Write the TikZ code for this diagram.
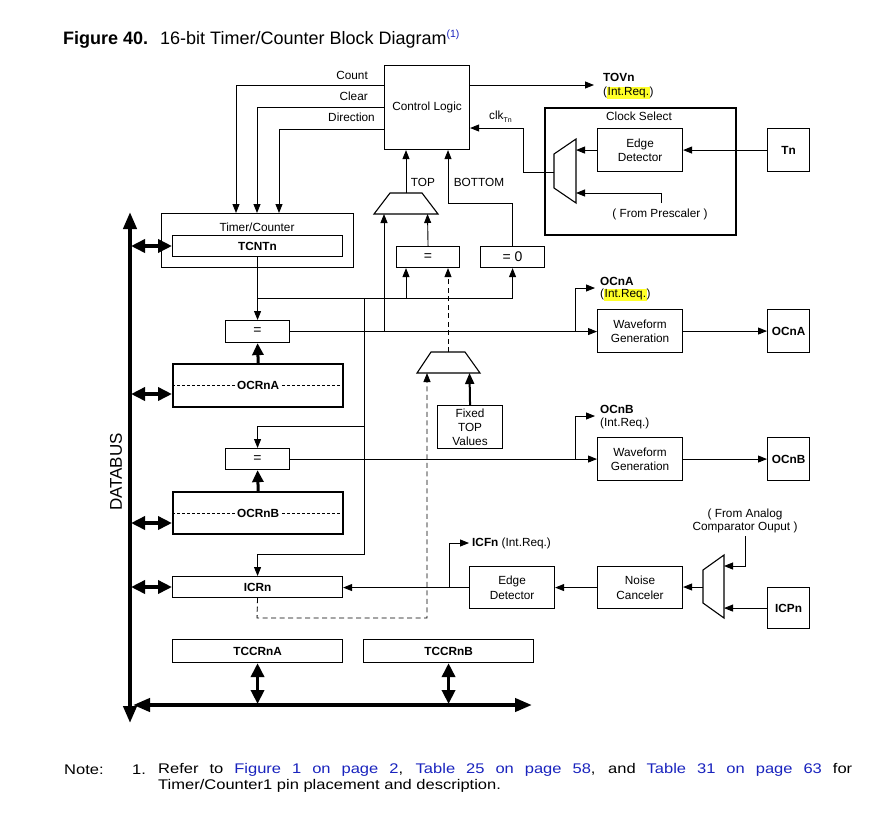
\documentclass[tikz,border=0pt]{standalone}
\usepackage{fontspec}
\setmainfont{Liberation Sans}
\newfontfamily\notefont[FakeStretch=1.18]{Liberation Sans}
\usetikzlibrary{arrows.meta,calc}
\definecolor{linkblue}{RGB}{25,35,190}
\definecolor{hl}{RGB}{255,255,40}
\newcommand\labfont{\fontsize{11.8}{14.5}\selectfont}
\newcommand\hlt[1]{{\setlength{\fboxsep}{0.6pt}\colorbox{hl}{#1}}}
\begin{document}
\begin{tikzpicture}[x=1pt,y=-1pt,
  box/.style={draw,line width=1.1pt,inner sep=0pt,align=center,font=\labfont,anchor=north west},
  bbox/.style={box,font=\labfont\bfseries},
  tbox/.style={box,line width=2.4pt},
  lbl/.style={font=\labfont,inner sep=0pt},
  wire/.style={line width=0.9pt},
  arr/.style={wire,-{Triangle[length=9pt,width=7pt]}},
  darr/.style={wire,dash pattern=on 5pt off 3.5pt,-{Triangle[length=9pt,width=7pt]}},
  bus/.style={line width=3.5pt,{Triangle[length=14pt,width=13pt]}-{Triangle[length=14pt,width=13pt]}},
  mainbus/.style={line width=4pt,{Triangle[length=17pt,width=13pt]}-{Triangle[length=17pt,width=13pt]}},
  fat/.style={line width=3pt,-{Triangle[length=12pt,width=11pt]}},
  muxs/.style={line width=1.1pt},
  ]
\useasboundingbox[fill=white] (0,0) rectangle (877,815);

% ---------- title ----------
\node[anchor=west,inner sep=0pt,font=\fontsize{18}{20}\selectfont] (title) at (63,39)
  {\bfseries Figure 40.\hspace{12pt}\mdseries 16-bit Timer/Counter Block Diagram\raisebox{7pt}{\fontsize{10.5}{11}\selectfont\color{linkblue}(1)}};

% ---------- boxes ----------
\node[box,minimum width=85pt,minimum height=84pt] (ctrl) at (384,65) {Control Logic};
\node[tbox,minimum width=191pt,minimum height=127pt] (clksel) at (544,107) {};
\node[lbl] (clkseltxt) at (639,116) {Clock Select};
\node[box,minimum width=85pt,minimum height=43pt] (edge1) at (597,128) {Edge\\Detector};
\node[bbox,minimum width=42pt,minimum height=43pt] (tn) at (767,128) {Tn};

\node[box,minimum width=192pt,minimum height=54pt] (tc) at (161,213) {};
\node[lbl] (tctxt) at (257,227) {Timer/Counter};
\node[bbox,minimum width=170pt,minimum height=21pt] (tcnt) at (172,235) {TCNTn};

\node[box,minimum width=64pt,minimum height=22pt,font=\fontsize{14}{14}\selectfont] (eqA) at (225,320) {=};
\node[tbox,minimum width=170pt,minimum height=43pt] (ocra) at (172,363) {};
\node[box,minimum width=64pt,minimum height=21pt,font=\fontsize{14}{14}\selectfont] (eqB) at (225,448) {=};
\node[tbox,minimum width=170pt,minimum height=42pt] (ocrb) at (172,491) {};
\node[bbox,minimum width=170pt,minimum height=21pt] (icr) at (172,576) {ICRn};
\node[bbox,minimum width=170pt,minimum height=23pt] (tccra) at (172,639) {TCCRnA};
\node[bbox,minimum width=170pt,minimum height=23pt] (tccrb) at (363,639) {TCCRnB};

\node[box,minimum width=63pt,minimum height=21pt,font=\fontsize{14}{14}\selectfont] (eqT) at (396,246) {=};
\node[box,minimum width=64pt,minimum height=21pt,font=\fontsize{14}{14}\selectfont] (eq0) at (480,246) {= 0};
\node[box,minimum width=65pt,minimum height=43pt,font=\fontsize{11.8}{14}\selectfont] (fixed) at (437,405) {Fixed\\TOP\\Values};

\node[box,minimum width=85pt,minimum height=43pt] (wgA) at (597,309) {Waveform\\Generation};
\node[bbox,minimum width=42pt,minimum height=43pt] (ocna) at (767,309) {OCnA};
\node[box,minimum width=85pt,minimum height=43pt] (wgB) at (597,437) {Waveform\\Generation};
\node[bbox,minimum width=42pt,minimum height=43pt] (ocnb) at (767,437) {OCnB};

\node[box,minimum width=85pt,minimum height=42pt] (edge2) at (469,566) {Edge\\Detector};
\node[box,minimum width=85pt,minimum height=42pt] (noise) at (597,566) {Noise\\Canceler};
\node[bbox,minimum width=42pt,minimum height=41pt] (icpn) at (767,587) {ICPn};

% OCR registers: dashed middle line with label
\draw[wire,line width=0.7pt,densely dashed] (ocra.west) -- (ocra.east);
\node[lbl,fill=white,inner xsep=2pt,font=\labfont\bfseries] (ocratxt) at (ocra.center) {OCRnA};
\draw[wire,line width=0.7pt,densely dashed] (ocrb.west) -- (ocrb.east);
\node[lbl,fill=white,inner xsep=2pt,font=\labfont\bfseries] (ocrbtxt) at (ocrb.center) {OCRnB};

% ---------- multiplexers ----------
\draw[muxs] (554,154) -- (576,139) -- (576,203) -- (554,188) -- cycle;
\coordinate (m1o) at (554,172); \coordinate (m1a) at (576,149.5); \coordinate (m1b) at (576,193);
\draw[muxs] (374,214) -- (390,193) -- (422,193) -- (438,214) -- cycle;
\coordinate (tmo) at (406,193); \coordinate (tma) at (384,214); \coordinate (tmb) at (427.5,214);
\draw[muxs] (417,373) -- (431,352) -- (465,352) -- (480,373) -- cycle;
\coordinate (fmo) at (448,352); \coordinate (fma) at (427,373); \coordinate (fmb) at (469.5,373);
\draw[muxs] (703,570) -- (724,555) -- (724,618) -- (703,603) -- cycle;
\coordinate (imo) at (703,587); \coordinate (ima) at (724,566); \coordinate (imb) at (724,607.5);

% ---------- control logic connections ----------
\coordinate (cnt) at (236,85); \coordinate (clr) at (257,107); \coordinate (dir) at (279,129);
\draw[arr] (ctrl.west |- cnt) -- (cnt) -- (cnt |- tc.north);
\draw[arr] (ctrl.west |- clr) -- (clr) -- (clr |- tc.north);
\draw[arr] (ctrl.west |- dir) -- (dir) -- (dir |- tc.north);
\node[lbl,anchor=east] (cntl) at (368,75) {Count};
\node[lbl,anchor=east] (clrl) at (368,96) {Clear};
\node[lbl,anchor=east] (dirl) at (375,117) {Direction};

\coordinate (tov) at (594,85);
\draw[arr] (ctrl.east |- tov) -- (tov);
\node[lbl,anchor=west,font=\labfont\bfseries] (tovl) at (603,77) {TOVn};
\node[lbl,anchor=west] (tovr) at (603,93) {(\hlt{Int.Req.})};

\coordinate (clka) at (523,128);
\draw[arr] (m1o) -- (m1o -| clka) -- (clka) -- (ctrl.east |- clka);
\node[lbl,anchor=west] (clkl) at (489,117) {clk\raisebox{-3pt}{\fontsize{7}{7}\selectfont Tn}};

\draw[arr] (edge1.west) -- (edge1.west -| m1a);
\draw[arr] (tn.west) -- (edge1.east);
\coordinate (pre) at (661,203);
\draw[arr] (pre) -- (pre |- m1b) -- (m1b);
\node[lbl] (prel) at (660,214) {( From Prescaler )};

\draw[arr] (tmo) -- (tmo |- ctrl.south);
\node[lbl] (topl) at (423,182) {TOP};
\coordinate (botc) at (448,203);
\draw[arr] (eq0.north) -- (eq0.north |- botc) -- (botc) -- (botc |- ctrl.south);
\node[lbl] (botl) at (479,182) {BOTTOM};
\draw[arr] (eqT.north) -- (tmb);

% ---------- TCNT distribution ----------
\coordinate (tj) at (257,298);
\draw[arr] (tcnt.south) -- (eqA.north);
\draw[wire] (tj) -- (tj -| eq0.south);
\draw[arr] (tj -| eq0.south) -- (eq0.south);
\coordinate (tja) at (406,298);
\draw[arr] (tja) -- (tja |- eqT.south);
\coordinate (vj) at (364,298); \coordinate (vj2) at (364,554); \coordinate (vj3) at (364,426);
\draw[wire] (vj) -- (vj2) -- (vj2 -| icr.north);
\draw[arr] (vj2 -| icr.north) -- (icr.north);
\draw[wire] (vj3) -- (vj3 -| eqB.north);
\draw[arr] (vj3 -| eqB.north) -- (eqB.north);

% ---------- compare A ----------
\draw[arr] (eqA.east) -- (eqA.east -| wgA.west);
\draw[arr] (eqA.east -| tma) -- (tma);
\coordinate (oa) at (575,288); \coordinate (oat) at (595,288);
\draw[arr] (eqA.east -| oa) -- (oa) -- (oat);
\node[lbl,anchor=west,font=\labfont\bfseries] (oal) at (600,281) {OCnA};
\node[lbl,anchor=west] (oar) at (600,295) {(\hlt{Int.Req.})};
\draw[fat] (ocra.north) -- (eqA.south);
\draw[arr] (wgA.east) -- (ocna.west);

% ---------- compare B ----------
\draw[arr] (eqB.east) -- (eqB.east -| wgB.west);
\coordinate (ob) at (575,416); \coordinate (obt) at (595,416);
\draw[arr] (eqB.east -| ob) -- (ob) -- (obt);
\node[lbl,anchor=west,font=\labfont\bfseries] (obl) at (600,409) {OCnB};
\node[lbl,anchor=west] (obr) at (600,423) {(Int.Req.)};
\draw[fat] (ocrb.north) -- (eqB.south);
\draw[arr] (wgB.east) -- (ocnb.west);

% ---------- TOP selection ----------
\draw[darr] (fmo) -- (fmo |- eqT.south);
\coordinate (d1) at (257,618); \coordinate (d2) at (427,618);
\draw[darr] (icr.south) -- (d1) -- (d2) -- (fma);
\draw[line width=2pt,-{Triangle[length=11pt,width=9pt]}] (fixed.north) -- (fmb);

% ---------- input capture ----------
\draw[arr] (edge2.west) -- (edge2.west -| icr.east);
\coordinate (ic) at (449,543); \coordinate (ict) at (469,543);
\draw[arr] (edge2.west -| ic) -- (ic) -- (ict);
\node[lbl,anchor=west] (icl) at (472,543) {\textbf{ICFn} (Int.Req.)};
\draw[arr] (noise.west) -- (edge2.east);
\draw[arr] (imo) -- (imo -| noise.east);
\draw[arr] (icpn.west) -- (icpn.west -| imb);
\coordinate (an) at (745,536);
\draw[arr] (an) -- (an |- ima) -- (ima);
\node[lbl,align=center,font=\fontsize{11.8}{13}\selectfont] (anl) at (745,521) {( From Analog\\Comparator Ouput )};

% ---------- data bus ----------
\coordinate (dbt) at (130,212); \coordinate (dbb) at (130,723);
\draw[mainbus] (dbt) -- (dbb);
\coordinate (hbl) at (133,705); \coordinate (hbr) at (532,705);
\draw[mainbus] (hbl) -- (hbr);
\coordinate (bt) at (131,246); \coordinate (ba) at (131,394); \coordinate (bb) at (131,523); \coordinate (bi) at (131,587);
\draw[bus] (bt) -- (bt -| tcnt.west);
\draw[bus] (ba) -- (ba -| ocra.west);
\draw[bus] (bb) -- (bb -| ocrb.west);
\draw[bus] (bi) -- (bi -| icr.west);
\coordinate (hb) at (133,704);
\draw[bus] (hb -| tccra.south) -- (tccra.south);
\draw[bus] (hb -| tccrb.south) -- (tccrb.south);
\node[lbl,rotate=90,font=\fontsize{17}{17}\selectfont] (dbl) at (116,472) {DATABUS};

% ---------- note ----------
\node[anchor=west,inner sep=0pt,font=\notefont\fontsize{14}{16}\selectfont] (note) at (64,770) {Note:};
\node[anchor=west,inner sep=0pt,font=\notefont\fontsize{14}{16}\selectfont] (n1) at (132,770) {1.};
\node[anchor=west,inner sep=0pt,font=\notefont\fontsize{14}{16}\selectfont] (nl1) at (158,770)
  {\makebox[694pt][s]{Refer to \textcolor{linkblue}{Figure 1 on page 2}, \textcolor{linkblue}{Table 25 on page 58}, and \textcolor{linkblue}{Table 31 on page 63} for}};
\node[anchor=west,inner sep=0pt,font=\notefont\fontsize{14}{16}\selectfont] (nl2) at (158,786)
  {Timer/Counter1 pin placement and description.};
\end{tikzpicture}
\end{document}
